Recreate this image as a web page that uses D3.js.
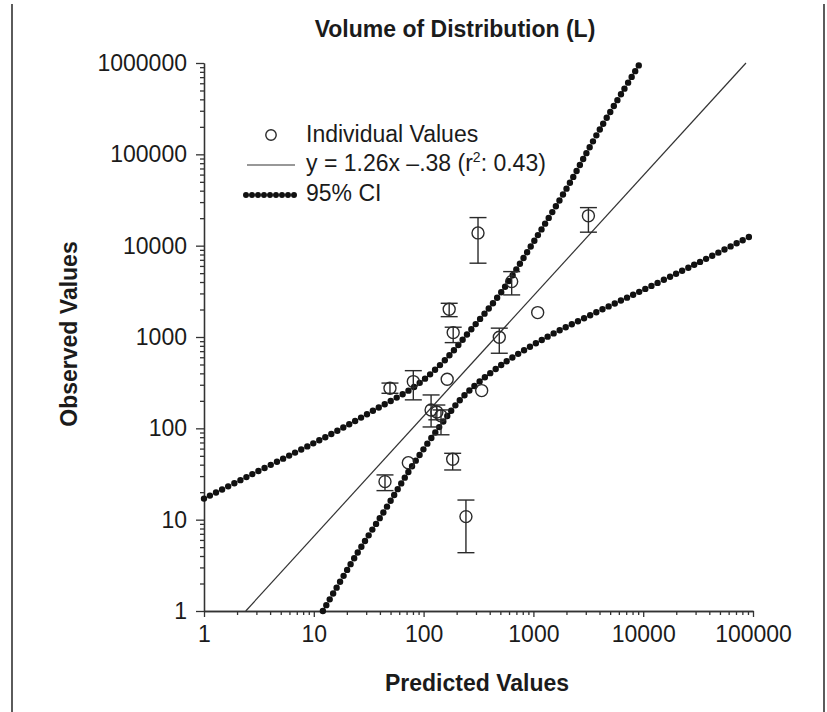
<!DOCTYPE html>
<html>
<head>
<meta charset="utf-8">
<script src="https://cdn.jsdelivr.net/npm/d3@7"></script>
<style>
  body { margin: 0; background: #fff; }
  svg { display: block; font-family: "Liberation Sans", Arial, sans-serif; }
</style>
</head>
<body>
<div id="chart"></div>
<script>
// individual values (predicted vs observed), with error bars where drawn
var predicted = [313, 3170, 634, 171, 186, 1094, 489, 80.6, 164, 49.4, 117, 132, 144, 338, 72.6, 184, 44.5, 243];
var observed  = [13800, 21200, 4040, 2016, 1117, 1850, 995, 325, 345, 275, 159, 151, 137, 259, 42.1, 45.9, 26.1, 10.8];
var errLow    = [6430, 14050, 2890, 1670, 868, null, 664, 205, null, 242, 103.5, 124, 85, null, null, 35, 20.8, 4.35];
var errHigh   = [20300, 26100, 5200, 2340, 1280, null, 1250, 428, null, 313, 232, 180, 159, null, null, 53.3, 30.9, 16.4];

// regression line y = 1.26x - .38 (log scale), as drawn
var fitX = [2.4, 86300],
    fitY = [1, 1000000];

// 95% CI bands
var ciUpperX = [1, 2.4, 6.7, 15.6, 36, 84, 150, 265, 500, 990, 2000, 4000, 9400],
    ciUpperY = [17, 29, 54, 91, 160, 290, 530, 1170, 3000, 10700, 42000, 185000, 1000000];
var ciLowerX = [12.1, 23.7, 44.5, 78, 141, 228, 496, 1330, 3490, 8780, 21600, 40600, 100000],
    ciLowerY = [1, 3.9, 12.8, 38, 106, 221, 482, 1000, 1790, 3040, 5160, 7540, 13100];

var xDomain = [1, 100000],
    yDomain = [1, 1000000];

var title = "Volume of Distribution (L)",
    xTitle = "Predicted Values",
    yTitle = "Observed Values",
    legendLabels = ["Individual Values", "y = 1.26x \u2013.38 (r", "95% CI"];

var width = 827,
    height = 712,
    ink = "#1b1b1b",
    fontSize = 23;

var svg = d3.select("#chart").append("svg")
    .attr("width", width)
    .attr("height", height);

var x = d3.scaleLog().domain(xDomain).range([204, 753]),
    y = d3.scaleLog().domain(yDomain).range([611, 63]);

// frame lines left and right
svg.append("line").attr("x1", 12).attr("x2", 12).attr("y1", 4).attr("y2", height)
    .attr("stroke", "#333").attr("stroke-width", 1.6);
svg.append("line").attr("x1", 824).attr("x2", 824).attr("y1", 4).attr("y2", height)
    .attr("stroke", "#333").attr("stroke-width", 1.6);

svg.append("clipPath").attr("id", "plot_clip")
    .append("rect").attr("x", 200).attr("y", 55).attr("width", 560).attr("height", 560);

// axes: major ticks with labels + unlabeled minor ticks
var isMajor = function (d) { return Math.abs(Math.log10(d) - Math.round(Math.log10(d))) < 1e-9; };

var xTicks = x.ticks(),
    yTicks = y.ticks();

function styleAxis(g) {
    g.selectAll("path, line").attr("stroke", "#333").attr("stroke-width", 1.3);
    g.selectAll("text").attr("fill", ink).style("font-size", fontSize + "px")
        .style("font-family", "'Liberation Sans', Arial, sans-serif");
}

svg.append("g").attr("transform", "translate(0," + y(1) + ")")
    .call(d3.axisBottom(x).tickValues(xTicks.filter(function (d) { return !isMajor(d); }))
        .tickSize(4).tickSizeOuter(0).tickFormat(""))
    .call(styleAxis);
svg.append("g").attr("transform", "translate(0," + y(1) + ")")
    .call(d3.axisBottom(x).tickValues(xTicks.filter(isMajor))
        .tickSize(6).tickSizeOuter(0).tickPadding(9).tickFormat(d3.format("d")))
    .call(styleAxis);

svg.append("g").attr("transform", "translate(" + x(1) + ",0)")
    .call(d3.axisLeft(y).tickValues(yTicks.filter(function (d) { return !isMajor(d); }))
        .tickSize(4).tickSizeOuter(0).tickFormat(""))
    .call(styleAxis);
svg.append("g").attr("transform", "translate(" + x(1) + ",0)")
    .call(d3.axisLeft(y).tickValues(yTicks.filter(isMajor))
        .tickSize(8).tickSizeOuter(0).tickPadding(9).tickFormat(d3.format("d")))
    .call(styleAxis);

// titles
svg.append("text").attr("x", 455).attr("y", 37).attr("text-anchor", "middle")
    .attr("font-weight", "bold").attr("font-size", fontSize).attr("fill", ink).text(title);
svg.append("text").attr("x", 477).attr("y", 691).attr("text-anchor", "middle")
    .attr("font-weight", "bold").attr("font-size", fontSize).attr("fill", ink).text(xTitle);
svg.append("text").attr("transform", "translate(77,334) rotate(-90)").attr("text-anchor", "middle")
    .attr("font-weight", "bold").attr("font-size", fontSize).attr("fill", ink).text(yTitle);

var plot = svg.append("g").attr("clip-path", "url(#plot_clip)");

// CI bands drawn as chains of dots
var ciLine = d3.line()
    .x(function (d) { return x(d[0]); })
    .y(function (d) { return y(d[1]); })
    .curve(d3.curveCatmullRom.alpha(0.5));

[d3.zip(ciUpperX, ciUpperY), d3.zip(ciLowerX, ciLowerY)].forEach(function (band) {
    plot.append("path")
        .attr("d", ciLine(band))
        .attr("fill", "none")
        .attr("stroke", "#111")
        .attr("stroke-width", 6.4)
        .attr("stroke-linecap", "round")
        .attr("stroke-dasharray", "0 6.8");
});

// regression line
plot.append("path")
    .attr("d", d3.line().x(function (d) { return x(d[0]); }).y(function (d) { return y(d[1]); })(d3.zip(fitX, fitY)))
    .attr("fill", "none")
    .attr("stroke", "#333")
    .attr("stroke-width", 1.2);

// error bars
var bars = predicted.map(function (p, i) {
    return { x: p, lo: errLow[i], hi: errHigh[i] };
}).filter(function (d) { return d.lo != null; });

var barG = plot.selectAll(".ebar").data(bars).enter().append("g").attr("class", "ebar")
    .attr("stroke", "#2a2a2a").attr("stroke-width", 1.4);
barG.append("line")
    .attr("x1", function (d) { return x(d.x); }).attr("x2", function (d) { return x(d.x); })
    .attr("y1", function (d) { return y(d.lo); }).attr("y2", function (d) { return y(d.hi); });
barG.append("line")
    .attr("x1", function (d) { return x(d.x) - 8.5; }).attr("x2", function (d) { return x(d.x) + 8.5; })
    .attr("y1", function (d) { return y(d.hi); }).attr("y2", function (d) { return y(d.hi); });
barG.append("line")
    .attr("x1", function (d) { return x(d.x) - 8.5; }).attr("x2", function (d) { return x(d.x) + 8.5; })
    .attr("y1", function (d) { return y(d.lo); }).attr("y2", function (d) { return y(d.lo); });

// individual values
plot.selectAll(".pt").data(d3.zip(predicted, observed)).enter().append("circle")
    .attr("class", "pt")
    .attr("cx", function (d) { return x(d[0]); })
    .attr("cy", function (d) { return y(d[1]); })
    .attr("r", 6)
    .attr("fill", "none")
    .attr("stroke", "#2a2a2a")
    .attr("stroke-width", 1.4);

// legend
var legend = svg.append("g").attr("font-size", fontSize).attr("fill", ink);

legend.append("circle").attr("cx", 271).attr("cy", 135).attr("r", 5.2)
    .attr("fill", "none").attr("stroke", "#2a2a2a").attr("stroke-width", 1.4);
legend.append("text").attr("x", 306).attr("y", 142).text(legendLabels[0]);

legend.append("line").attr("x1", 247).attr("x2", 295).attr("y1", 165).attr("y2", 165)
    .attr("stroke", "#333").attr("stroke-width", 1.2);
var fitLabel = legend.append("text").attr("x", 306).attr("y", 171);
fitLabel.append("tspan").text(legendLabels[1]);
fitLabel.append("tspan").attr("dy", -9).attr("font-size", 14).text("2");
fitLabel.append("tspan").attr("dy", 9).text(": 0.43)");

legend.append("line").attr("x1", 246).attr("x2", 295).attr("y1", 195).attr("y2", 195)
    .attr("stroke", "#111").attr("stroke-width", 6).attr("stroke-linecap", "round")
    .attr("stroke-dasharray", "0 6");
legend.append("text").attr("x", 306).attr("y", 201).text(legendLabels[2]);
</script>
</body>
</html>
